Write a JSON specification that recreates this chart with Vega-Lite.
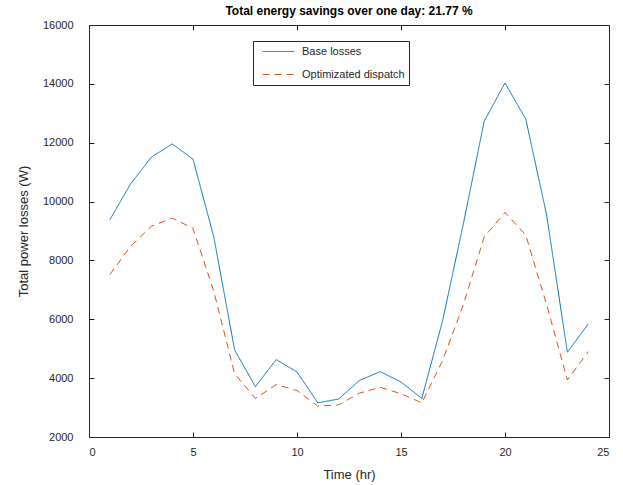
{
  "$schema": "https://vega.github.io/schema/vega-lite/v6.json",
  "width": 520,
  "height": 412,
  "autosize": {"type": "none"},
  "padding": {"left": 89, "top": 25, "right": 14, "bottom": 48},
  "background": "white",
  "title": {
    "text": "Total energy savings over one day: 21.77 %",
    "font": "Liberation Sans",
    "fontSize": 12,
    "fontWeight": "bold",
    "color": "black",
    "anchor": "middle",
    "offset": 1
  },
  "config": {
    "view": {"stroke": "#262626", "strokeWidth": 1},
    "axis": {
      "labelFont": "Liberation Sans",
      "titleFont": "Liberation Sans",
      "labelFontSize": 11,
      "titleFontSize": 13,
      "titleFontWeight": "normal",
      "labelColor": "#262626",
      "titleColor": "#262626",
      "tickColor": "#262626",
      "tickWidth": 1,
      "domain": false,
      "grid": false,
      "tickSize": 5,
      "offset": -5
    }
  },
  "data": {
    "values": [
      {"hour": 1, "series": "Base losses", "value": 9380},
      {"hour": 2, "series": "Base losses", "value": 10600},
      {"hour": 3, "series": "Base losses", "value": 11510},
      {"hour": 4, "series": "Base losses", "value": 11960},
      {"hour": 5, "series": "Base losses", "value": 11440},
      {"hour": 6, "series": "Base losses", "value": 8800},
      {"hour": 7, "series": "Base losses", "value": 4960},
      {"hour": 8, "series": "Base losses", "value": 3710},
      {"hour": 9, "series": "Base losses", "value": 4630},
      {"hour": 10, "series": "Base losses", "value": 4210},
      {"hour": 11, "series": "Base losses", "value": 3160},
      {"hour": 12, "series": "Base losses", "value": 3290},
      {"hour": 13, "series": "Base losses", "value": 3920},
      {"hour": 14, "series": "Base losses", "value": 4220},
      {"hour": 15, "series": "Base losses", "value": 3870},
      {"hour": 16, "series": "Base losses", "value": 3310},
      {"hour": 17, "series": "Base losses", "value": 5950},
      {"hour": 18, "series": "Base losses", "value": 9250},
      {"hour": 19, "series": "Base losses", "value": 12730},
      {"hour": 20, "series": "Base losses", "value": 14030},
      {"hour": 21, "series": "Base losses", "value": 12800},
      {"hour": 22, "series": "Base losses", "value": 9550},
      {"hour": 23, "series": "Base losses", "value": 4880},
      {"hour": 24, "series": "Base losses", "value": 5840},
      {"hour": 1, "series": "Optimizated dispatch", "value": 7520},
      {"hour": 2, "series": "Optimizated dispatch", "value": 8480},
      {"hour": 3, "series": "Optimizated dispatch", "value": 9160},
      {"hour": 4, "series": "Optimizated dispatch", "value": 9440},
      {"hour": 5, "series": "Optimizated dispatch", "value": 9090},
      {"hour": 6, "series": "Optimizated dispatch", "value": 6950},
      {"hour": 7, "series": "Optimizated dispatch", "value": 4150},
      {"hour": 8, "series": "Optimizated dispatch", "value": 3310},
      {"hour": 9, "series": "Optimizated dispatch", "value": 3780},
      {"hour": 10, "series": "Optimizated dispatch", "value": 3580},
      {"hour": 11, "series": "Optimizated dispatch", "value": 3050},
      {"hour": 12, "series": "Optimizated dispatch", "value": 3090},
      {"hour": 13, "series": "Optimizated dispatch", "value": 3490},
      {"hour": 14, "series": "Optimizated dispatch", "value": 3690},
      {"hour": 15, "series": "Optimizated dispatch", "value": 3470},
      {"hour": 16, "series": "Optimizated dispatch", "value": 3160},
      {"hour": 17, "series": "Optimizated dispatch", "value": 4600},
      {"hour": 18, "series": "Optimizated dispatch", "value": 6500},
      {"hour": 19, "series": "Optimizated dispatch", "value": 8800},
      {"hour": 20, "series": "Optimizated dispatch", "value": 9630},
      {"hour": 21, "series": "Optimizated dispatch", "value": 8860},
      {"hour": 22, "series": "Optimizated dispatch", "value": 6500},
      {"hour": 23, "series": "Optimizated dispatch", "value": 3940},
      {"hour": 24, "series": "Optimizated dispatch", "value": 4900}
    ]
  },
  "layer": [
    {
      "mark": {"type": "line", "strokeWidth": 1, "clip": true},
      "encoding": {
        "x": {
          "field": "hour",
          "type": "quantitative",
          "scale": {"domain": [0, 25], "nice": false, "zero": false},
          "axis": {"values": [0, 5, 10, 15, 20, 25], "format": "d", "title": "Time (hr)", "labelPadding": 9, "titlePadding": 11}
        },
        "y": {
          "field": "value",
          "type": "quantitative",
          "scale": {"domain": [2000, 16000], "nice": false, "zero": false},
          "axis": {"values": [2000, 4000, 6000, 8000, 10000, 12000, 14000, 16000], "format": "d", "title": "Total power losses (W)", "labelPadding": 16, "titlePadding": 12}
        },
        "color": {
          "field": "series",
          "type": "nominal",
          "scale": {"domain": ["Base losses", "Optimizated dispatch"], "range": ["#0072BD", "#D95319"]},
          "legend": {
            "title": null,
            "orient": "none",
            "legendX": 164,
            "legendY": 16,
            "symbolType": "stroke",
            "symbolSize": 1000,
            "symbolStrokeWidth": 1,
            "symbolOffset": 5,
            "clipHeight": 13,
            "labelFont": "Liberation Sans",
            "labelFontSize": 11,
            "labelColor": "#262626",
            "labelOffset": 7,
            "rowPadding": 10,
            "padding": 4,
            "strokeColor": "#262626",
            "fillColor": "white",
            "labelLimit": 200
          }
        },
        "strokeDash": {
          "field": "series",
          "type": "nominal",
          "scale": {"domain": ["Base losses", "Optimizated dispatch"], "range": [[1, 0], [7, 5]]},
          "legend": null
        }
      }
    },
    {
      "mark": {"type": "point", "opacity": 0},
      "encoding": {
        "x": {
          "field": "hour",
          "type": "quantitative",
          "axis": {"orient": "top", "values": [0, 5, 10, 15, 20, 25], "labels": false, "title": null}
        },
        "y": {
          "field": "value",
          "type": "quantitative",
          "axis": {"orient": "right", "values": [2000, 4000, 6000, 8000, 10000, 12000, 14000, 16000], "labels": false, "title": null}
        }
      }
    }
  ],
  "resolve": {"axis": {"x": "independent", "y": "independent"}}
}
